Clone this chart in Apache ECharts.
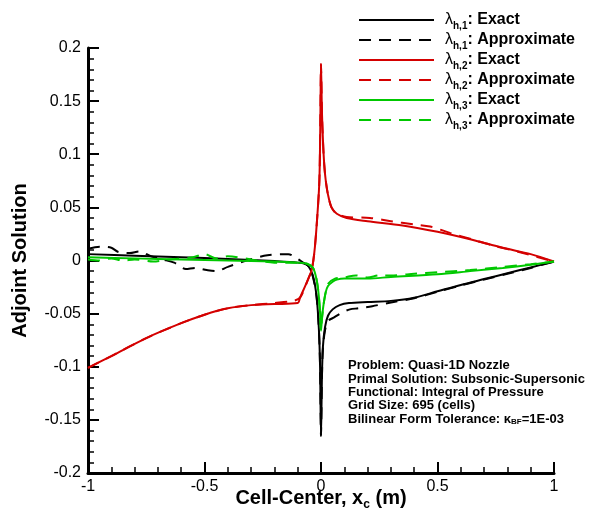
<!DOCTYPE html>
<html><head><meta charset="utf-8">
<script src="https://cdn.jsdelivr.net/npm/echarts@6/dist/echarts.min.js"></script>
<style>html,body{margin:0;padding:0;background:#fff}#c{width:592px;height:517px}</style>
</head><body><div id="c"></div>
<script>
// lambda_h,1 exact (black)
const x1e = [-1,-0.8,-0.6,-0.4,-0.2,-0.1,-0.06,-0.034,-0.019,-0.009,-0.004,0,0.004,0.008,0.017,0.03,0.05,0.08,0.12,0.2,0.3,0.4,0.5,0.6,0.7,0.8,0.9,1];
const y1e = [0.006,0.0045,0.003,0.0015,-0.0005,-0.002,-0.004,-0.015,-0.034,-0.065,-0.10,-0.165,-0.11,-0.082,-0.063,-0.052,-0.046,-0.042,-0.040,-0.039,-0.038,-0.035,-0.029,-0.023,-0.0175,-0.012,-0.0065,-0.001];
// lambda_h,1 approximate (black dashed)
const x1a = [-1,-0.95,-0.9,-0.87,-0.82,-0.78,-0.73,-0.68,-0.63,-0.58,-0.54,-0.49,-0.45,-0.4,-0.32,-0.23,-0.14,-0.11,-0.077,-0.05,-0.034,-0.019,-0.009,-0.004,0,0.004,0.008,0.017,0.03,0.052,0.09,0.124,0.16,0.22,0.3,0.4,0.5,0.6,0.7,0.8,0.9,1];
const y1a = [0.011,0.013,0.012,0.008,0.007,0.0085,0.004,0.001,-0.002,-0.008,-0.007,-0.009,-0.010,-0.006,0,0.005,0.006,0.003,-0.002,-0.006,-0.016,-0.034,-0.065,-0.10,-0.165,-0.11,-0.084,-0.066,-0.057,-0.054,-0.049,-0.046,-0.045,-0.043,-0.0395,-0.0355,-0.0295,-0.0235,-0.018,-0.0125,-0.007,-0.001];
// lambda_h,2 exact (red)
const x2e = [-1,-0.9,-0.75,-0.6,-0.5,-0.4,-0.3,-0.2,-0.1,-0.09,-0.056,-0.039,-0.026,-0.013,-0.007,-0.004,-0.002,0,0.004,0.009,0.014,0.02,0.03,0.045,0.068,0.11,0.2,0.35,0.5,0.64,0.78,0.9,1];
const y2e = [-0.101,-0.090,-0.073,-0.059,-0.051,-0.045,-0.042,-0.041,-0.040,-0.035,-0.018,-0.008,0.013,0.051,0.075,0.11,0.15,0.185,0.14,0.11,0.09,0.076,0.062,0.05,0.044,0.040,0.037,0.033,0.027,0.020,0.012,0.006,-0.001];
// lambda_h,2 approximate (red dashed)
const x2a = [-1,-0.9,-0.75,-0.6,-0.5,-0.4,-0.3,-0.2,-0.12,-0.09,-0.056,-0.039,-0.026,-0.013,-0.007,-0.004,-0.002,0,0.004,0.009,0.014,0.02,0.03,0.045,0.068,0.11,0.21,0.3,0.396,0.468,0.553,0.654,0.74,0.85,1];
const y2a = [-0.101,-0.090,-0.073,-0.059,-0.051,-0.045,-0.042,-0.040,-0.038,-0.035,-0.018,-0.008,0.013,0.051,0.075,0.11,0.15,0.185,0.14,0.11,0.09,0.076,0.062,0.05,0.044,0.041,0.040,0.037,0.034,0.032,0.026,0.0195,0.014,0.008,-0.001];
// lambda_h,3 exact (green)
const x3e = [-1,-0.8,-0.6,-0.4,-0.2,-0.1,-0.06,-0.034,-0.019,-0.01,-0.004,0,0.004,0.01,0.02,0.03,0.05,0.068,0.1,0.2,0.3,0.5,0.64,0.78,0.9,1];
const y3e = [0.003,0.002,0.001,0.0,-0.001,-0.002,-0.003,-0.007,-0.018,-0.032,-0.049,-0.066,-0.055,-0.043,-0.03,-0.024,-0.020,-0.018,-0.017,-0.017,-0.0155,-0.013,-0.010,-0.007,-0.004,-0.001];
// lambda_h,3 approximate (green dashed)
const x3a = [-1,-0.95,-0.9,-0.85,-0.8,-0.72,-0.65,-0.55,-0.5,-0.45,-0.4,-0.3,-0.2,-0.15,-0.1,-0.06,-0.034,-0.019,-0.01,-0.004,0,0.004,0.01,0.02,0.03,0.06,0.1,0.15,0.2,0.25,0.3,0.4,0.5,0.64,0.78,0.9,1];
const y3a = [0.001,0.0,0.002,0.0,0.001,-0.001,0.001,0.003,0.006,0.002,0.004,0.001,-0.002,-0.002,-0.002,-0.003,-0.007,-0.018,-0.032,-0.049,-0.066,-0.055,-0.043,-0.03,-0.022,-0.017,-0.016,-0.014,-0.016,-0.014,-0.014,-0.0125,-0.011,-0.009,-0.006,-0.0035,-0.001];

const xTicks = [-1, -0.5, 0, 0.5, 1];
const yTicks = [-0.2, -0.15, -0.1, -0.05, 0, 0.05, 0.1, 0.15, 0.2];

const zip = (xs, ys) => xs.map((x, i) => [x, ys[i]]);
const BLACK = '#000000', RED = '#d40000', GREEN = '#00c800';
const FONT = '"Liberation Sans", Arial, Helvetica, sans-serif';
const names = ['e1','a1','e2','a2','e3','a3'];
const labels = {
  e1: '{l|λ}{s|h,1}{t|: Exact}', a1: '{l|λ}{s|h,1}{t|: Approximate}',
  e2: '{l|λ}{s|h,2}{t|: Exact}', a2: '{l|λ}{s|h,2}{t|: Approximate}',
  e3: '{l|λ}{s|h,3}{t|: Exact}', a3: '{l|λ}{s|h,3}{t|: Approximate}'
};
function mk(name, xs, ys, color, dashed) {
  return {
    name, type: 'line', data: zip(xs, ys), symbol: 'none', smooth: 0.3,
    lineStyle: { color, width: 2, type: dashed ? [12, 8] : 'solid' },
    itemStyle: { color }, animation: false
  };
}
const legendRich = {
  l: { fontSize: 16, fontFamily: FONT, color: '#000', lineHeight: 22, verticalAlign: 'middle' },
  s: { fontSize: 10, fontWeight: 'bold', fontFamily: FONT, color: '#000', lineHeight: 12, verticalAlign: 'bottom' },
  t: { fontSize: 16, fontWeight: 'bold', fontFamily: FONT, color: '#000', lineHeight: 22, verticalAlign: 'middle' }
};
const rowCenters = [19, 39, 59, 79, 99, 119];
const legends = names.map((n, i) => ({
  data: [n], orient: 'vertical', left: 358, top: rowCenters[i] - 7, padding: 0,
  itemWidth: 75, itemHeight: 14, itemGap: 0, selectedMode: false,
  itemStyle: { opacity: 0, borderWidth: 0 },
  formatter: (nm) => labels[nm],
  textStyle: { rich: legendRich, padding: [0, 0, 0, 6] }
}));

const chart = echarts.init(document.getElementById('c'), null, { renderer: 'canvas' });
chart.setOption({
  animation: false,
  backgroundColor: '#fff',
  grid: { left: 88, right: 38, top: 48, bottom: 44, outerBoundsMode: 'none', containLabel: false },
  legend: legends,
  title: {
    left: 348, top: 359, padding: 0,
    text: 'Problem: Quasi-1D Nozzle\nPrimal Solution: Subsonic-Supersonic\nFunctional: Integral of Pressure\nGrid Size: 695 (cells)\nBilinear Form Tolerance: {k|κ}{b|BF}=1E-03',
    textStyle: { fontSize: 13, fontWeight: 'bold', fontFamily: FONT, color: '#000', lineHeight: 13.4,
      rich: {
        k: { fontSize: 13, fontFamily: FONT, color: '#000', lineHeight: 13.4 },
        b: { fontSize: 8, fontWeight: 'bold', fontFamily: FONT, color: '#000', lineHeight: 7, verticalAlign: 'bottom' }
      } }
  },
  xAxis: {
    type: 'value', min: -1, max: 1, interval: 0.5,
    name: 'Cell-Center, x{sub|c} (m)', nameLocation: 'middle', nameGap: 12, nameMoveOverlap: false,
    nameTextStyle: { fontSize: 20, fontWeight: 'bold', fontFamily: FONT, color: '#000', lineHeight: 26, verticalAlign: 'top',
      rich: { sub: { fontSize: 12, fontWeight: 'bold', fontFamily: FONT, color: '#000', lineHeight: 12, verticalAlign: 'bottom' } } },
    axisLine: { show: true, onZero: false, lineStyle: { color: '#000', width: 3 } },
    axisTick: { show: true, inside: true, length: 11, lineStyle: { color: '#000', width: 2 } },
    minorTick: { show: true, splitNumber: 5, length: 6, lineStyle: { color: '#000', width: 1.5 } },
    splitLine: { show: false },
    axisLabel: { fontSize: 16, fontFamily: FONT, color: '#000', margin: 6,
      formatter: (v) => { const t = xTicks.find(q => Math.abs(q - v) < 1e-9); return t === undefined ? '' : String(t); } }
  },
  yAxis: {
    type: 'value', min: -0.2, max: 0.2, interval: 0.05,
    name: 'Adjoint Solution', nameLocation: 'middle', nameGap: 58, nameMoveOverlap: false,
    nameTextStyle: { fontSize: 20, fontWeight: 'bold', fontFamily: FONT, color: '#000' },
    axisLine: { show: true, onZero: false, lineStyle: { color: '#000', width: 3 } },
    axisTick: { show: true, inside: true, length: 11, lineStyle: { color: '#000', width: 2 } },
    minorTick: { show: true, splitNumber: 5, length: 6, lineStyle: { color: '#000', width: 1.5 } },
    splitLine: { show: false },
    axisLabel: { fontSize: 16, fontFamily: FONT, color: '#000', margin: 7,
      formatter: (v) => { const t = yTicks.find(q => Math.abs(q - v) < 1e-9); return t === undefined ? '' : String(t); } }
  },
  series: [
    mk('e1', x1e, y1e, BLACK, false),
    mk('a1', x1a, y1a, BLACK, true),
    mk('e2', x2e, y2e, RED, false),
    mk('a2', x2a, y2a, RED, true),
    mk('e3', x3e, y3e, GREEN, false),
    mk('a3', x3a, y3a, GREEN, true)
  ]
});
</script></body></html>
